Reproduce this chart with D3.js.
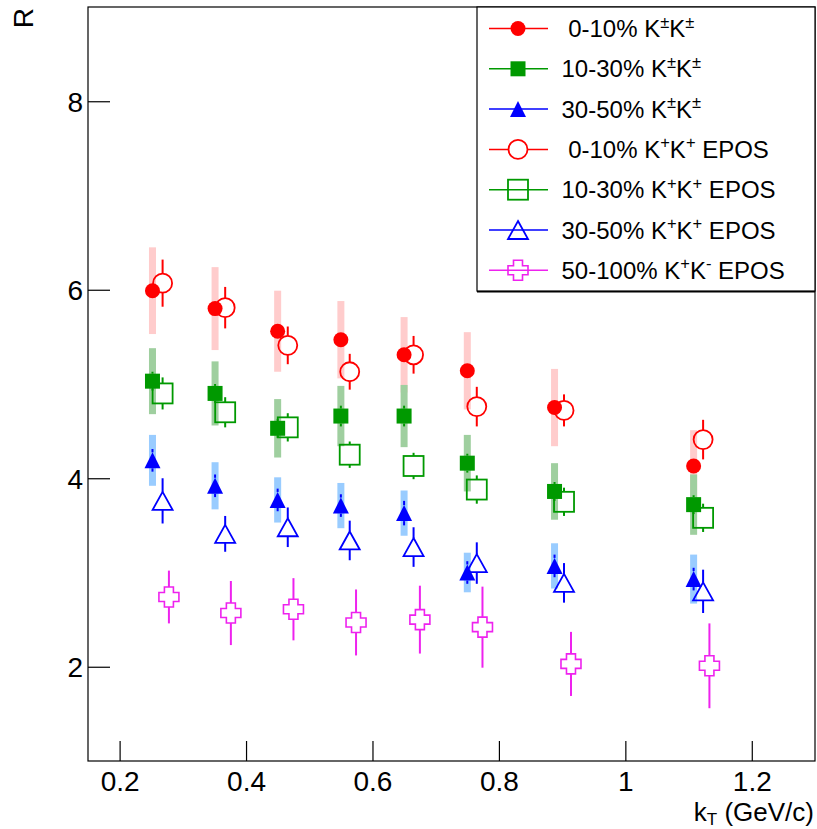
<!DOCTYPE html>
<html>
<head>
<meta charset="utf-8">
<script src="https://cdn.jsdelivr.net/npm/d3@7/dist/d3.min.js"></script>
<style>
  html, body { margin: 0; padding: 0; background: #fff; }
  svg { display: block; font-family: "Liberation Sans", Arial, Helvetica, sans-serif; }
  .pre { white-space: pre; }
</style>
</head>
<body>
<svg id="chart" width="817" height="829"></svg>
<script>
// kT bin centres (GeV/c) for the measured points and the shifted EPOS points
const kT        = [0.252, 0.351, 0.450, 0.550, 0.650, 0.750, 0.888, 1.108];
const kTEpos    = [0.268, 0.367, 0.466, 0.564, 0.665, 0.765, 0.903, 1.123];
const kTEposKK  = [0.278, 0.376, 0.475, 0.574, 0.675, 0.774, 0.914, 1.133];

// Measured K±K± radii: value, statistical and systematic errors
const r010      = [5.99, 5.80, 5.56, 5.47, 5.31, 5.14, 4.75, 4.13];
const r010Stat  = [0.05, 0.05, 0.05, 0.05, 0.05, 0.05, 0.05, 0.05];
const r010Sys   = [0.46, 0.44, 0.43, 0.41, 0.40, 0.41, 0.41, 0.38];
const r1030     = [5.03, 4.90, 4.53, 4.66, 4.66, 4.16, 3.86, 3.72];
const r1030Stat = [0.10, 0.10, 0.10, 0.11, 0.11, 0.10, 0.10, 0.10];
const r1030Sys  = [0.35, 0.34, 0.31, 0.32, 0.33, 0.30, 0.30, 0.32];
const r3050     = [4.19, 3.92, 3.77, 3.71, 3.63, 3.00, 3.07, 2.93];
const r3050Stat = [0.12, 0.12, 0.12, 0.12, 0.13, 0.12, 0.12, 0.12];
const r3050Sys  = [0.27, 0.25, 0.24, 0.24, 0.24, 0.21, 0.24, 0.26];

// EPOS K+K+ and K+K- radii with errors
const e010      = [6.07, 5.81, 5.41, 5.13, 5.31, 4.76, 4.72, 4.41];
const e010Err   = [0.25, 0.22, 0.20, 0.19, 0.20, 0.21, 0.17, 0.21];
const e1030     = [4.90, 4.70, 4.54, 4.25, 4.13, 3.88, 3.75, 3.58];
const e1030Err  = [0.17, 0.16, 0.15, 0.14, 0.14, 0.15, 0.15, 0.15];
const e3050     = [3.76, 3.41, 3.48, 3.34, 3.27, 3.10, 2.89, 2.80];
const e3050Err  = [0.24, 0.19, 0.21, 0.21, 0.21, 0.22, 0.21, 0.23];
const e50100    = [2.74, 2.57, 2.61, 2.47, 2.50, 2.42, 2.03, 2.01];
const e50100Err = [0.28, 0.34, 0.33, 0.35, 0.36, 0.43, 0.34, 0.45];

const xTicks = [0.2, 0.4, 0.6, 0.8, 1.0, 1.2];
const yTicks = [2, 4, 6, 8];

const RED = "#ff0000", GREEN = "#009900", BLUE = "#0000ff", MAGENTA = "#ee22ee";
const RED_BAND = "#ffcccc", GREEN_BAND = "#9fcf9f", BLUE_BAND = "#99ccff";

const svg = d3.select("#chart");
const frame = { left: 88, right: 815, top: 7, bottom: 761 };

const x = d3.scaleLinear().domain([0.15, 1.3]).range([frame.left, frame.right]);
const y = d3.scaleLinear().domain([1, 9]).range([frame.bottom, frame.top]);

svg.append("rect").attr("width", 817).attr("height", 829).attr("fill", "#fff");

// Axes with inward ticks
const fmtX = d => (d === 1 ? "1" : d3.format(".1f")(d));
const gx = svg.append("g").attr("transform", `translate(0,${frame.bottom})`)
  .call(d3.axisBottom(x).tickValues(xTicks).tickFormat(fmtX).tickSize(-20).tickSizeOuter(0).tickPadding(10.5));
const gy = svg.append("g").attr("transform", `translate(${frame.left},0)`)
  .call(d3.axisLeft(y).tickValues(yTicks).tickFormat(d3.format("d")).tickSize(-22).tickSizeOuter(0).tickPadding(5));
[gx, gy].forEach(g => {
  g.attr("font-family", null).attr("font-size", null);
  g.select(".domain").remove();
  g.selectAll(".tick line").attr("stroke", "#000").attr("stroke-width", 1.2);
  g.selectAll(".tick text").attr("fill", "#000").style("font-size", "28px");
});
gy.selectAll(".tick text").attr("dy", "0.36em");

svg.append("rect")
  .attr("x", frame.left).attr("y", frame.top)
  .attr("width", frame.right - frame.left).attr("height", frame.bottom - frame.top)
  .attr("fill", "none").attr("stroke", "#000").attr("stroke-width", 1.2);

// Axis titles
const xt = svg.append("text").attr("x", 814).attr("y", 821).attr("text-anchor", "end")
  .style("font-size", "26px");
xt.append("tspan").text("k");
xt.append("tspan").attr("dy", 3.5).style("font-size", "17px").text("T");
xt.append("tspan").attr("dy", -3.5).attr("class", "pre").text(" (GeV/c)");

svg.append("text").attr("transform", "translate(33,8) rotate(-90)")
  .attr("text-anchor", "end").style("font-size", "28px").text("R");

// Marker shapes
const markers = {
  circleFilled:  { draw: (g, c) => g.append("circle").attr("r", 7.5).attr("fill", c), half: 7.5 },
  squareFilled:  { draw: (g, c) => g.append("rect").attr("x", -7.5).attr("y", -7.5).attr("width", 15).attr("height", 15).attr("fill", c), half: 7.5 },
  triFilled:     { draw: (g, c) => g.append("path").attr("d", "M0,-8L8,8L-8,8Z").attr("fill", c), half: 8 },
  circleOpen:    { draw: (g, c, f) => g.append("circle").attr("r", 9.5).attr("fill", f || "none").attr("stroke", c).attr("stroke-width", 1.8), half: 9.5 },
  squareOpen:    { draw: (g, c) => g.append("rect").attr("x", -10).attr("y", -10).attr("width", 20).attr("height", 20).attr("fill", "none").attr("stroke", c).attr("stroke-width", 1.8), half: 10 },
  triOpen:       { draw: (g, c) => g.append("path").attr("d", "M0,-9L10,9L-10,9Z").attr("fill", "none").attr("stroke", c).attr("stroke-width", 1.8).attr("stroke-linejoin", "miter"), half: 9 },
  crossOpen:     { draw: (g, c) => g.append("path").attr("d", "M-4.5,-10H4.5V-4.5H10V4.5H4.5V10H-4.5V4.5H-10V-4.5H-4.5Z").attr("fill", "none").attr("stroke", c).attr("stroke-width", 1.6), half: 10 }
};

// Systematic bands
const bandW = 7;
function bands(xs, vals, sys, color) {
  svg.append("g").selectAll("rect").data(vals).join("rect")
    .attr("x", (d, i) => x(xs[i]) - bandW / 2)
    .attr("y", (d, i) => y(d + sys[i]))
    .attr("width", bandW)
    .attr("height", (d, i) => y(d - sys[i]) - y(d + sys[i]))
    .attr("fill", color);
}
bands(kT, r010, r010Sys, RED_BAND);
bands(kT, r1030, r1030Sys, GREEN_BAND);
bands(kT, r3050, r3050Sys, BLUE_BAND);

// Points with vertical error bars (bars stop at the marker edge)
function series(xs, vals, errs, color, shape, lw) {
  const m = markers[shape];
  const g = svg.append("g");
  vals.forEach((v, i) => {
    const cx = x(xs[i]), cy = y(v);
    const top = y(v + errs[i]), bot = y(v - errs[i]);
    if (cy - m.half > top)
      g.append("line").attr("x1", cx).attr("x2", cx).attr("y1", top).attr("y2", cy - m.half)
        .attr("stroke", color).attr("stroke-width", lw);
    if (bot > cy + m.half)
      g.append("line").attr("x1", cx).attr("x2", cx).attr("y1", cy + m.half).attr("y2", bot)
        .attr("stroke", color).attr("stroke-width", lw);
    const mg = g.append("g").attr("transform", `translate(${cx},${cy})`);
    m.draw(mg, color);
  });
}
series(kTEpos, e010, e010Err, RED, "circleOpen", 2);
series(kTEpos, e1030, e1030Err, GREEN, "squareOpen", 2);
series(kTEpos, e3050, e3050Err, BLUE, "triOpen", 2);
series(kTEposKK, e50100, e50100Err, MAGENTA, "crossOpen", 2);
series(kT, r010, r010Stat, RED, "circleFilled", 2);
series(kT, r1030, r1030Stat, GREEN, "squareFilled", 2);
series(kT, r3050, r3050Stat, BLUE, "triFilled", 2);

// Legend
const legendItems = [
  { pre: " 0-10% ", a: "K", sa: "±", b: "K", sb: "±", post: "", color: RED, shape: "circleFilled" },
  { pre: "10-30% ", a: "K", sa: "±", b: "K", sb: "±", post: "", color: GREEN, shape: "squareFilled" },
  { pre: "30-50% ", a: "K", sa: "±", b: "K", sb: "±", post: "", color: BLUE, shape: "triFilled" },
  { pre: " 0-10% ", a: "K", sa: "+", b: "K", sb: "+", post: " EPOS", color: RED, shape: "circleOpen" },
  { pre: "10-30% ", a: "K", sa: "+", b: "K", sb: "+", post: " EPOS", color: GREEN, shape: "squareOpen" },
  { pre: "30-50% ", a: "K", sa: "+", b: "K", sb: "+", post: " EPOS", color: BLUE, shape: "triOpen" },
  { pre: "50-100% ", a: "K", sa: "+", b: "K", sb: "-", post: " EPOS", color: MAGENTA, shape: "crossOpen" }
];
const leg = { x0: 477, y0: 7, x1: 815, y1: 291, row0: 28.5, dy: 40.3 };
svg.append("rect").attr("x", leg.x0).attr("y", leg.y0)
  .attr("width", leg.x1 - leg.x0).attr("height", leg.y1 - leg.y0)
  .attr("fill", "#fff").attr("stroke", "#000").attr("stroke-width", 1.2);
svg.append("line").attr("x1", leg.x0).attr("x2", leg.x1).attr("y1", leg.y1 + 0.8).attr("y2", leg.y1 + 0.8)
  .attr("stroke", "#000").attr("stroke-width", 1.5);

legendItems.forEach((it, i) => {
  const cy = leg.row0 + i * leg.dy;
  svg.append("line").attr("x1", 489).attr("x2", 548).attr("y1", cy).attr("y2", cy)
    .attr("stroke", it.color).attr("stroke-width", 1.5);
  const mg = svg.append("g").attr("transform", `translate(518,${cy})`);
  markers[it.shape].draw(mg, it.color, "#fff");
  const t = svg.append("text").attr("x", 561.5).attr("y", cy + 8.5).attr("class", "pre")
    .style("font-size", "24px").attr("fill", "#000");
  t.append("tspan").text(it.pre + it.a);
  t.append("tspan").attr("dy", -9.5).style("font-size", "16.5px").text(it.sa);
  t.append("tspan").attr("dy", 9.5).text(it.b);
  t.append("tspan").attr("dy", -9.5).style("font-size", "16.5px").text(it.sb);
  t.append("tspan").attr("dy", 9.5).text(it.post);
});
</script>
</body>
</html>
